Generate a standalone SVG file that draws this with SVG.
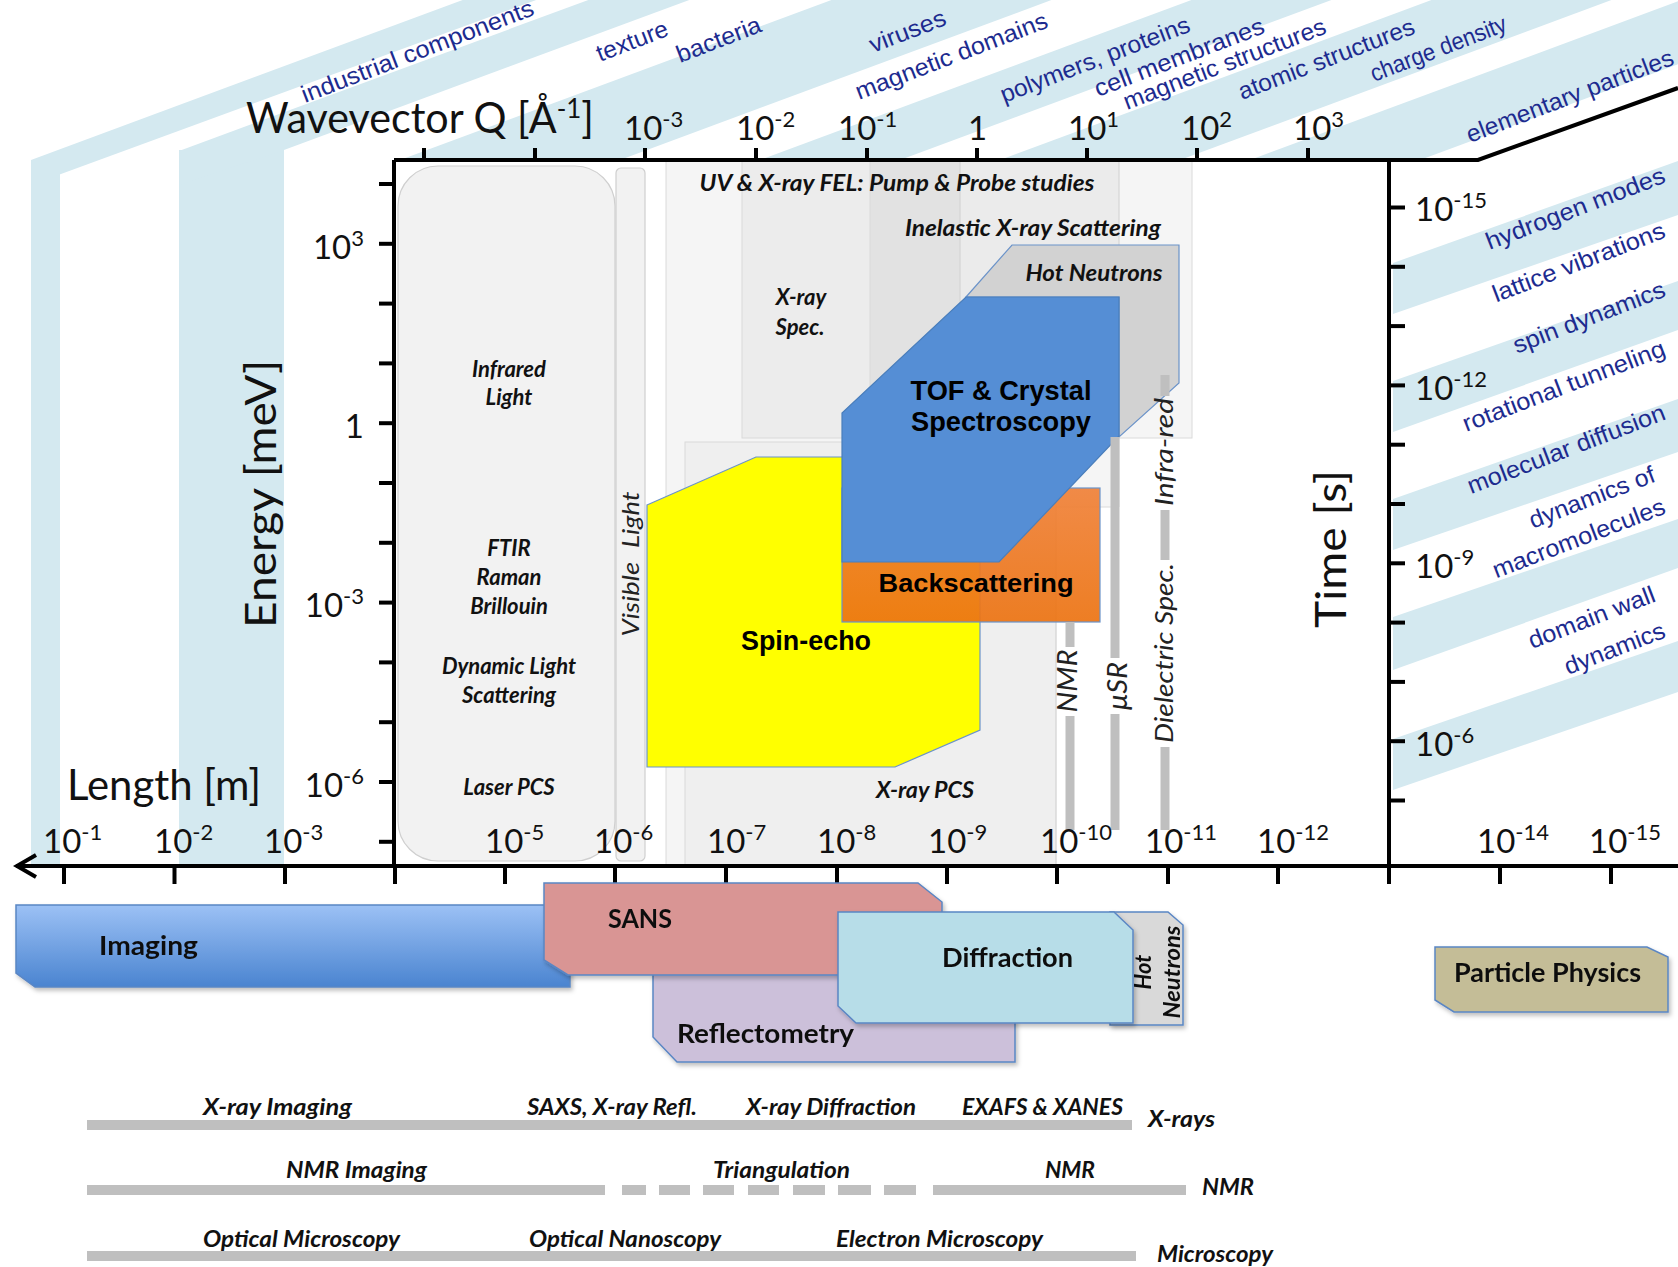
<svg xmlns="http://www.w3.org/2000/svg" width="1678" height="1267" viewBox="0 0 1678 1267">
<style>
.ax{stroke:#000;stroke-width:4;fill:none}
.tk{stroke:#000;stroke-width:4}
.num{font-family:Lato,'Liberation Sans',sans-serif;font-size:33px;fill:#111}
.sup{font-size:22px}
.big{font-family:Lato,'Liberation Sans',sans-serif;font-size:43px;fill:#111}
.bi{font-family:Lato,'Liberation Sans',sans-serif;font-weight:bold;font-style:italic;font-size:22px;fill:#111}
.ab{font-family:'Liberation Sans',Arial,sans-serif;font-weight:bold;fill:#000}
.it{font-family:Lato,'Liberation Sans',sans-serif;font-style:italic;fill:#222}
.blue{font-family:'Liberation Sans',Arial,sans-serif;font-size:24px;fill:#1d2b8f}
.band{fill:#d4e9f0}
.box{stroke:#5a86c4;stroke-width:1.5}
.cb{font-family:Lato,'Liberation Sans',sans-serif;font-weight:bold;font-size:26px;fill:#111}
.bar{fill:#bfbfbf}
.vbar{stroke:#bfbfbf;stroke-width:9}
.tl{font-family:Lato,'Liberation Sans',sans-serif;font-style:italic;font-weight:bold;font-size:23px;fill:#111}
</style>
<defs>
<clipPath id="topclip"><polygon points="0,0 1678,0 1678,88 1478,160 394,160 394,865 0,865"/></clipPath>
<clipPath id="rclip"><rect x="1391" y="160" width="287" height="705"/></clipPath>
<linearGradient id="gImg" x1="0" y1="0" x2="0" y2="1"><stop offset="0" stop-color="#9cc1f5"/><stop offset="1" stop-color="#4a84d0"/></linearGradient>
<linearGradient id="gOr" x1="0" y1="0" x2="0" y2="1"><stop offset="0" stop-color="#f0823a"/><stop offset="1" stop-color="#ec7413"/></linearGradient>
<filter id="sh" x="-5%" y="-5%" width="110%" height="120%"><feDropShadow dx="2" dy="3" stdDeviation="2" flood-color="#000" flood-opacity="0.25"/></filter>
</defs>
<rect width="1678" height="1267" fill="#fff"/>

<g id="bands" clip-path="url(#topclip)">
<rect class="band" x="31" y="170" width="29" height="700"/>
<rect class="band" x="179" y="150" width="105" height="720"/>
<polygon class="band" points="31,185 31,160 700,-88 700,-60"/>
<polygon class="band" points="179,185 284,150 900,-78 900,-115 179,151"/>
<polygon class="band" points="400,160 620,160 1100,-18 880,-18"/>
<polygon class="band" points="760,160 900,160 1380,-18 1240,-18"/>
<polygon class="band" points="1000,160 1180,160 1660,-18 1480,-18"/>
<polygon class="band" points="1250,160 1420,160 1900,-18 1730,-18"/>
</g>
<g id="rbands" clip-path="url(#rclip)">
<polygon class="band" points="1393,263 1678,161 1678,215 1393,314"/>
<polygon class="band" points="1393,381 1678,281 1678,330 1393,432"/>
<polygon class="band" points="1393,499 1678,399 1678,452 1393,550"/>
<polygon class="band" points="1393,617 1678,519 1678,568 1393,670"/>
<polygon class="band" points="1393,739 1678,641 1678,692 1393,790"/>
</g>

<g id="sample-labels" class="blue">
<text transform="translate(305,103) rotate(-21)" textLength="247" lengthAdjust="spacingAndGlyphs">industrial components</text>
<text transform="translate(600,62) rotate(-21)" textLength="75" lengthAdjust="spacingAndGlyphs">texture</text>
<text transform="translate(680,63) rotate(-21)" textLength="89" lengthAdjust="spacingAndGlyphs">bacteria</text>
<text transform="translate(873,53) rotate(-21)" textLength="80" lengthAdjust="spacingAndGlyphs">viruses</text>
<text transform="translate(859,100) rotate(-21)" textLength="204" lengthAdjust="spacingAndGlyphs">magnetic domains</text>
<text transform="translate(1004,103) rotate(-21)" textLength="201" lengthAdjust="spacingAndGlyphs">polymers, proteins</text>
<text transform="translate(1098,97) rotate(-21)" textLength="180" lengthAdjust="spacingAndGlyphs">cell membranes</text>
<text transform="translate(1127,110) rotate(-21)" textLength="215" lengthAdjust="spacingAndGlyphs">magnetic structures</text>
<text transform="translate(1242,100) rotate(-21)" textLength="187" lengthAdjust="spacingAndGlyphs">atomic structures</text>
<text transform="translate(1374,82) rotate(-21)" textLength="144" lengthAdjust="spacingAndGlyphs">charge density</text>
<text transform="translate(1470,143) rotate(-21)" textLength="220" lengthAdjust="spacingAndGlyphs">elementary particles</text>
<g text-anchor="end">
<text transform="translate(1667,182) rotate(-21)" textLength="190" lengthAdjust="spacingAndGlyphs">hydrogen modes</text>
<text transform="translate(1667,237) rotate(-21)" textLength="183" lengthAdjust="spacingAndGlyphs">lattice vibrations</text>
<text transform="translate(1667,296) rotate(-21)" textLength="161" lengthAdjust="spacingAndGlyphs">spin dynamics</text>
<text transform="translate(1667,355) rotate(-21)" textLength="215" lengthAdjust="spacingAndGlyphs">rotational tunneling</text>
<text transform="translate(1667,419) rotate(-21)" textLength="210" lengthAdjust="spacingAndGlyphs">molecular diffusion</text>
<text transform="translate(1657,481) rotate(-21)" textLength="133" lengthAdjust="spacingAndGlyphs">dynamics of</text>
<text transform="translate(1667,513) rotate(-21)" textLength="183" lengthAdjust="spacingAndGlyphs">macromolecules</text>
<text transform="translate(1657,601) rotate(-21)" textLength="134" lengthAdjust="spacingAndGlyphs">domain wall</text>
<text transform="translate(1667,637) rotate(-21)" textLength="106" lengthAdjust="spacingAndGlyphs">dynamics</text>
</g>
</g>

<rect x="394" y="160" width="995" height="705" fill="#fff"/>

<g id="regions">
<polygon points="666,161 1119,161 1119,507 1056,507 1056,865 666,865" fill="#f5f5f5" stroke="#dadada" stroke-width="1"/>
<rect x="685" y="442" width="371" height="423" fill="#000" fill-opacity="0.025" stroke="#dadada" stroke-width="1"/>
<rect x="742" y="161" width="218" height="277" fill="#000" fill-opacity="0.035" stroke="#dadada" stroke-width="1"/>
<rect x="870" y="161" width="322" height="277" fill="#000" fill-opacity="0.04" stroke="#dadada" stroke-width="1"/>
<rect x="398" y="166" width="217" height="695" rx="40" fill="#f2f2f2" stroke="#cfcfcf" stroke-width="1.2"/>
<rect x="616" y="168" width="29" height="693" rx="5" fill="#f2f2f2" stroke="#cfcfcf" stroke-width="1.2"/>
</g>

<g id="hot-neutrons">
<polygon points="1012,245 1179,245 1179,383 1119,437 1119,297 966,297" fill="#d2d2d2" stroke="#6b93c9" stroke-width="1.2"/>
</g>
<g id="spin-echo">
<polygon points="647,505 756,457 980,457 980,730 895,767 647,767" fill="#ffff00" stroke="#6b93c9" stroke-width="1.2"/>
</g>
<g id="backscattering">
<rect x="842" y="488" width="258" height="134" fill="url(#gOr)" fill-opacity="0.93" stroke="#6b93c9" stroke-width="1.2"/>
</g>
<g id="tof">
<polygon points="966,297 1119,297 1119,436 999,562 842,562 842,413" fill="#558ed5" stroke="#4a7ebb" stroke-width="1.2"/>
</g>

<g id="method-bars">
<line class="vbar" x1="1070" y1="622" x2="1070" y2="647"/>
<line class="vbar" x1="1070" y1="716" x2="1070" y2="830"/>
<line class="vbar" x1="1115" y1="437" x2="1115" y2="658"/>
<line class="vbar" x1="1115" y1="714" x2="1115" y2="830"/>
<line class="vbar" x1="1165" y1="375" x2="1165" y2="396"/>
<line class="vbar" x1="1165" y1="510" x2="1165" y2="560"/>
<line class="vbar" x1="1165" y1="747" x2="1165" y2="830"/>
</g>

<g id="plot-labels">
<g class="bi" text-anchor="middle">
<text x="509" y="377">Infrared</text>
<text x="509" y="405">Light</text>
<text x="509" y="556">FTIR</text>
<text x="509" y="585">Raman</text>
<text x="509" y="614">Brillouin</text>
<text x="509" y="674">Dynamic Light</text>
<text x="509" y="703">Scattering</text>
<text x="509" y="795">Laser PCS</text>
<text x="897" y="191" textLength="395" lengthAdjust="spacingAndGlyphs">UV &amp; X-ray FEL: Pump &amp; Probe studies</text>
<text x="1033" y="236" textLength="256" lengthAdjust="spacingAndGlyphs">Inelastic X-ray Scattering</text>
<text x="1094" y="281" textLength="137" lengthAdjust="spacingAndGlyphs">Hot Neutrons</text>
<text x="801" y="305">X-ray</text>
<text x="800" y="335">Spec.</text>
<text x="925" y="798" textLength="98" lengthAdjust="spacingAndGlyphs">X-ray PCS</text>
</g>
<g class="ab" text-anchor="middle" font-size="27">
<text x="1001" y="400" textLength="181" lengthAdjust="spacingAndGlyphs">TOF &amp; Crystal</text>
<text x="1001" y="431" textLength="180" lengthAdjust="spacingAndGlyphs">Spectroscopy</text>
<text x="976" y="592" font-size="26" textLength="195" lengthAdjust="spacingAndGlyphs">Backscattering</text>
<text x="806" y="650" textLength="130" lengthAdjust="spacingAndGlyphs">Spin-echo</text>
</g>
<g class="it" font-size="24" text-anchor="middle">
<text transform="translate(639,564) rotate(-90)" font-size="23" textLength="145" lengthAdjust="spacingAndGlyphs">Visible<tspan dx="12">Light</tspan></text>
<text transform="translate(1077,681) rotate(-90)" font-size="27" textLength="63" lengthAdjust="spacingAndGlyphs">NMR</text>
<text transform="translate(1127,686) rotate(-90)" font-size="27" textLength="48" lengthAdjust="spacingAndGlyphs">μSR</text>
<text transform="translate(1173,653) rotate(-90)" font-size="26" textLength="180" lengthAdjust="spacingAndGlyphs">Dielectric Spec.</text>
<text transform="translate(1173,452) rotate(-90)" font-size="26" textLength="108" lengthAdjust="spacingAndGlyphs">Infra-red</text>
</g>
</g>

<g id="axes">
<path class="ax" d="M394,160 H1478 L1678,88"/>
<path class="ax" d="M394,160 V866"/>
<path class="ax" d="M1389,160 V866"/>
<path class="ax" d="M16,866 H1678"/>
<path class="ax" d="M36,855 L17,866 L36,877" stroke-linejoin="miter"/>
<g class="tk">
<line x1="64" y1="866" x2="64" y2="884"/><line x1="174.5" y1="866" x2="174.5" y2="884"/><line x1="285" y1="866" x2="285" y2="884"/><line x1="395" y1="866" x2="395" y2="884"/><line x1="505" y1="866" x2="505" y2="884"/><line x1="615" y1="866" x2="615" y2="884"/><line x1="726" y1="866" x2="726" y2="884"/><line x1="837" y1="866" x2="837" y2="884"/><line x1="947" y1="866" x2="947" y2="884"/><line x1="1057" y1="866" x2="1057" y2="884"/><line x1="1168" y1="866" x2="1168" y2="884"/><line x1="1278" y1="866" x2="1278" y2="884"/><line x1="1389" y1="866" x2="1389" y2="884"/><line x1="1500" y1="866" x2="1500" y2="884"/><line x1="1611" y1="866" x2="1611" y2="884"/>
<line x1="424" y1="148" x2="424" y2="160"/><line x1="535" y1="148" x2="535" y2="160"/><line x1="645" y1="148" x2="645" y2="160"/><line x1="756" y1="148" x2="756" y2="160"/><line x1="867" y1="148" x2="867" y2="160"/><line x1="977" y1="148" x2="977" y2="160"/><line x1="1087" y1="148" x2="1087" y2="160"/><line x1="1197" y1="148" x2="1197" y2="160"/><line x1="1308" y1="148" x2="1308" y2="160"/>
<line x1="379" y1="184" x2="394" y2="184"/><line x1="379" y1="243.8" x2="394" y2="243.8"/><line x1="379" y1="303.6" x2="394" y2="303.6"/><line x1="379" y1="363.4" x2="394" y2="363.4"/><line x1="379" y1="423.2" x2="394" y2="423.2"/><line x1="379" y1="483" x2="394" y2="483"/><line x1="379" y1="542.8" x2="394" y2="542.8"/><line x1="379" y1="602.6" x2="394" y2="602.6"/><line x1="379" y1="662.4" x2="394" y2="662.4"/><line x1="379" y1="722.2" x2="394" y2="722.2"/><line x1="379" y1="782" x2="394" y2="782"/><line x1="379" y1="841.8" x2="394" y2="841.8"/>
<line x1="1389" y1="207.5" x2="1405" y2="207.5"/><line x1="1389" y1="266.8" x2="1405" y2="266.8"/><line x1="1389" y1="326.1" x2="1405" y2="326.1"/><line x1="1389" y1="385.4" x2="1405" y2="385.4"/><line x1="1389" y1="444.7" x2="1405" y2="444.7"/><line x1="1389" y1="504" x2="1405" y2="504"/><line x1="1389" y1="563.3" x2="1405" y2="563.3"/><line x1="1389" y1="622.6" x2="1405" y2="622.6"/><line x1="1389" y1="681.9" x2="1405" y2="681.9"/><line x1="1389" y1="741.2" x2="1405" y2="741.2"/><line x1="1389" y1="800.5" x2="1405" y2="800.5"/>
</g>
</g>

<g id="axis-labels">
<text class="big" x="246" y="133" font-size="40" textLength="348" lengthAdjust="spacingAndGlyphs">Wavevector Q [Å<tspan font-size="27" dy="-15">-1</tspan><tspan dy="15">]</tspan></text>
<text class="big" x="67" y="800" textLength="194" lengthAdjust="spacingAndGlyphs">Length [m]</text>
<text class="big" transform="translate(276,494) rotate(-90)" text-anchor="middle" textLength="268" lengthAdjust="spacingAndGlyphs">Energy [meV]</text>
<text class="big" transform="translate(1346,549) rotate(-90)" text-anchor="middle" textLength="158" lengthAdjust="spacingAndGlyphs">Time [s]</text>
<g class="num">
<text x="624" y="140">10<tspan class="sup" dy="-13">-3</tspan></text>
<text x="736" y="140">10<tspan class="sup" dy="-13">-2</tspan></text>
<text x="838" y="140">10<tspan class="sup" dy="-13">-1</tspan></text>
<text x="968" y="140">1</text>
<text x="1068" y="140">10<tspan class="sup" dy="-13">1</tspan></text>
<text x="1181" y="140">10<tspan class="sup" dy="-13">2</tspan></text>
<text x="1293" y="140">10<tspan class="sup" dy="-13">3</tspan></text>
<g text-anchor="end">
<text x="364" y="259">10<tspan class="sup" dy="-13">3</tspan></text>
<text x="364" y="438">1</text>
<text x="364" y="617">10<tspan class="sup" dy="-13">-3</tspan></text>
<text x="364" y="797">10<tspan class="sup" dy="-13">-6</tspan></text>
</g>
<text x="1415" y="221">10<tspan class="sup" dy="-13">-15</tspan></text>
<text x="1415" y="400">10<tspan class="sup" dy="-13">-12</tspan></text>
<text x="1415" y="578">10<tspan class="sup" dy="-13">-9</tspan></text>
<text x="1415" y="756">10<tspan class="sup" dy="-13">-6</tspan></text>
<text x="43" y="853">10<tspan class="sup" dy="-13">-1</tspan></text>
<text x="154" y="853">10<tspan class="sup" dy="-13">-2</tspan></text>
<text x="264" y="853">10<tspan class="sup" dy="-13">-3</tspan></text>
<text x="485" y="853">10<tspan class="sup" dy="-13">-5</tspan></text>
<text x="594" y="853">10<tspan class="sup" dy="-13">-6</tspan></text>
<text x="707" y="853">10<tspan class="sup" dy="-13">-7</tspan></text>
<text x="817" y="853">10<tspan class="sup" dy="-13">-8</tspan></text>
<text x="928" y="853">10<tspan class="sup" dy="-13">-9</tspan></text>
<text x="1040" y="853">10<tspan class="sup" dy="-13">-10</tspan></text>
<text x="1145" y="853">10<tspan class="sup" dy="-13">-11</tspan></text>
<text x="1257" y="853">10<tspan class="sup" dy="-13">-12</tspan></text>
<text x="1477" y="853">10<tspan class="sup" dy="-13">-14</tspan></text>
<text x="1589" y="853">10<tspan class="sup" dy="-13">-15</tspan></text>
</g>
</g>

<g id="imaging" filter="url(#sh)">
<polygon class="box" points="16,905 570,905 570,987 35,987 16,973" fill="url(#gImg)"/>
<text class="cb" x="99" y="955" textLength="99" lengthAdjust="spacingAndGlyphs">Imaging</text>
</g>
<g id="reflectometry" filter="url(#sh)">
<polygon class="box" points="653,960 1015,960 1015,1062 677,1062 653,1037" fill="#ccc0da"/>
<text class="cb" x="677" y="1043" textLength="177" lengthAdjust="spacingAndGlyphs">Reflectometry</text>
</g>
<g id="sans" filter="url(#sh)">
<polygon class="box" points="544,883 918,883 942,902 942,975 568,975 544,960" fill="#d99594"/>
<text class="cb" x="608" y="928" textLength="64" lengthAdjust="spacingAndGlyphs">SANS</text>
</g>
<g id="hot-neutrons-2" filter="url(#sh)">
<polygon class="box" points="1110,912 1168,912 1183,925 1183,1025 1110,1025" fill="#d9d9d9"/>
<text class="bi" transform="translate(1151,972) rotate(-90)" text-anchor="middle" font-size="21">Hot</text>
<text class="bi" transform="translate(1180,972) rotate(-90)" text-anchor="middle" font-size="21" textLength="93" lengthAdjust="spacingAndGlyphs">Neutrons</text>
</g>
<g id="diffraction" filter="url(#sh)">
<polygon class="box" points="838,912 1114,912 1133,930 1133,1023 856,1023 838,1006" fill="#b7dde8"/>
<text class="cb" x="942" y="967" textLength="131" lengthAdjust="spacingAndGlyphs">Diffraction</text>
</g>
<g id="particle-physics" filter="url(#sh)">
<polygon class="box" points="1435,947 1647,947 1668,957 1668,1012 1454,1012 1435,1000" fill="#c4bd97"/>
<text class="cb" x="1454" y="982" textLength="187" lengthAdjust="spacingAndGlyphs">Particle Physics</text>
</g>

<g id="technique-rows">
<rect class="bar" x="87" y="1120" width="1045" height="10"/>
<rect class="bar" x="87" y="1185" width="518" height="10"/>
<rect class="bar" x="622" y="1185" width="24" height="10"/>
<rect class="bar" x="659" y="1185" width="31" height="10"/>
<rect class="bar" x="703" y="1185" width="31" height="10"/>
<rect class="bar" x="748" y="1185" width="31" height="10"/>
<rect class="bar" x="793" y="1185" width="32" height="10"/>
<rect class="bar" x="838" y="1185" width="33" height="10"/>
<rect class="bar" x="884" y="1185" width="32" height="10"/>
<rect class="bar" x="933" y="1185" width="253" height="10"/>
<rect class="bar" x="87" y="1251" width="1049" height="10"/>
<g class="tl">
<text x="203" y="1115" textLength="149" lengthAdjust="spacingAndGlyphs">X-ray Imaging</text>
<text x="527" y="1115" textLength="170" lengthAdjust="spacingAndGlyphs">SAXS, X-ray Refl.</text>
<text x="746" y="1115" textLength="170" lengthAdjust="spacingAndGlyphs">X-ray Diffraction</text>
<text x="962" y="1115" textLength="161" lengthAdjust="spacingAndGlyphs">EXAFS &amp; XANES</text>
<text x="1148" y="1127" textLength="67" lengthAdjust="spacingAndGlyphs">X-rays</text>
<text x="286" y="1178" textLength="141" lengthAdjust="spacingAndGlyphs">NMR Imaging</text>
<text x="713" y="1178" textLength="137" lengthAdjust="spacingAndGlyphs">Triangulation</text>
<text x="1045" y="1178" textLength="50" lengthAdjust="spacingAndGlyphs">NMR</text>
<text x="1202" y="1195" textLength="52" lengthAdjust="spacingAndGlyphs">NMR</text>
<text x="203" y="1247" textLength="197" lengthAdjust="spacingAndGlyphs">Optical Microscopy</text>
<text x="529" y="1247" textLength="192" lengthAdjust="spacingAndGlyphs">Optical Nanoscopy</text>
<text x="836" y="1247" textLength="207" lengthAdjust="spacingAndGlyphs">Electron Microscopy</text>
<text x="1157" y="1262" textLength="116" lengthAdjust="spacingAndGlyphs">Microscopy</text>
</g>
</g>
</svg>
